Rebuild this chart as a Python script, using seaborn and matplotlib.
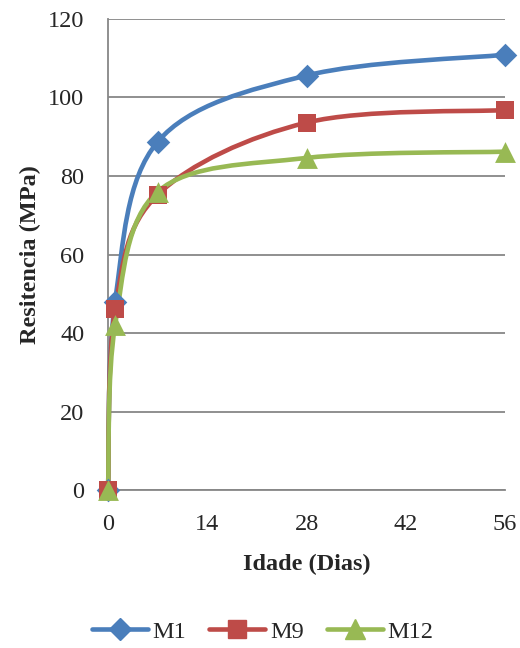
import numpy as np
import pandas as pd
import seaborn as sns
import matplotlib.pyplot as plt
from matplotlib.path import Path
from matplotlib.patches import PathPatch
from matplotlib.lines import Line2D

dias = [0, 1, 7, 28, 56]
m1 = [0, 48, 88.7, 105.6, 110.9]
m9 = [0, 46, 75.2, 93.6, 96.8]
m12 = [0, 42, 76, 84.6, 86.2]

series = ['M1', 'M9', 'M12']
colores = ['#4A7EBB', '#BE4B48', '#98B954']
marcadores = ['D', 's', '^']
tamanos = [12, 13.5, 15]

df = pd.DataFrame({'Idade': dias * 3,
                   'Resistencia': m1 + m9 + m12,
                   'Serie': [s for s in series for _ in dias]})

sns.set_style('white')
plt.rcParams['font.family'] = ['Liberation Serif', 'DejaVu Serif']

fig = plt.figure(figsize=(5.2, 6.48), dpi=100)
ax = fig.add_axes([0.2077, 0.2438, 0.7635, 0.7269])


def curva_suave(x, y):
    # bezier tipo excel (catmull-rom) entre los puntos
    p = np.column_stack([x, y]).astype(float)
    ext = np.vstack([p[0], p, p[-1]])
    verts = [p[0]]
    codes = [Path.MOVETO]
    for i in range(len(p) - 1):
        a, b, c, d = ext[i], ext[i + 1], ext[i + 2], ext[i + 3]
        verts += [b + (c - a) / 6, c - (d - b) / 6, c]
        codes += [Path.CURVE4] * 3
    return Path(verts, codes)


for s, col in zip(series, colores):
    sub = df[df['Serie'] == s]
    ax.add_patch(PathPatch(curva_suave(sub['Idade'], sub['Resistencia']),
                           fill=False, edgecolor=col, lw=3.3,
                           capstyle='round', clip_on=False, zorder=3))

for s, col, mk, ms in zip(series, colores, marcadores, tamanos):
    sub = df[df['Serie'] == s]
    sns.scatterplot(data=sub, x='Idade', y='Resistencia', ax=ax, color=col,
                    marker=mk, s=ms ** 2, edgecolor=col, linewidth=0,
                    clip_on=False, zorder=4, legend=False)

ax.set_xlim(0, 56)
ax.set_ylim(0, 120)
ax.set_xticks([0, 14, 28, 42, 56])
ax.set_yticks(range(0, 121, 20))
ax.yaxis.grid(True, color='#878787', lw=1.3)
ax.xaxis.grid(False)
for k in ['top', 'right']:
    ax.spines[k].set_visible(False)
for k in ['left', 'bottom']:
    ax.spines[k].set_color('#878787')
    ax.spines[k].set_linewidth(1.3)
ax.tick_params(axis='x', length=0, pad=17, labelsize=17.5)
ax.tick_params(axis='y', length=0, pad=17, labelsize=17.5)

ax.set_xlabel('Idade (Dias)', fontsize=17.5, fontweight='bold', labelpad=14)
ax.set_ylabel('Resitencia (MPa)', fontsize=17.5, fontweight='bold', labelpad=5)

handles = [Line2D([], [], color=c, lw=3.3, marker=m, markersize=ms * 0.95,
                  solid_capstyle='round')
           for c, m, ms in zip(colores, marcadores, tamanos)]
fig.legend(handles, series, loc='center', bbox_to_anchor=(0.505, 0.025),
           ncol=3, frameon=False, fontsize=17.5, handlelength=2.3,
           handletextpad=0.2, columnspacing=0.95)

plt.savefig('out.png', dpi=100)
